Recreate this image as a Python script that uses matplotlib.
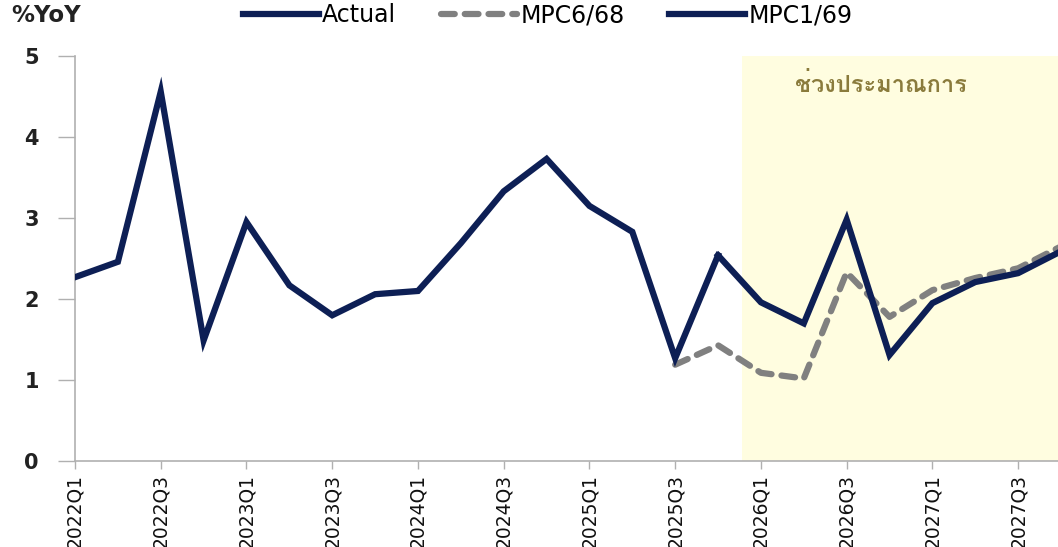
import matplotlib
matplotlib.use("Agg")
import matplotlib.pyplot as plt
from matplotlib.lines import Line2D

quarters = [f"{y}Q{q}" for y in range(2022, 2028) for q in range(1, 5)]
actual = [2.27, 2.46, 4.56, 1.49, 2.95, 2.17, 1.80, 2.06, 2.10, 2.69, 3.33, 3.73,
          3.15, 2.83, 1.27, 2.54]
mpc169 = [2.54, 1.96, 1.70, 2.98, 1.31, 1.95, 2.21, 2.32, 2.59]
mpc668 = [1.19, 1.43, 1.09, 1.02, 2.33, 1.78, 2.11, 2.26, 2.38, 2.65]
tick_labels = quarters[::2]
yticks = [0, 1, 2, 3, 4, 5]
forecast_label = "ช่วงประมาณการ"

navy = "#0d1f55"
grey = "#808080"

plt.rcParams['font.family'] = ['DejaVu Sans']
fig = plt.figure(figsize=(10.58, 5.47), dpi=100)
ax = fig.add_axes([0.0709, 0.157, 0.9291, 0.7406])

x_act = list(range(len(actual)))
x_169 = list(range(len(actual) - 1, len(actual) - 1 + len(mpc169)))
x_668 = list(range(14, 14 + len(mpc668)))

ax.axvspan(15.55, 24, color="#fffde0", zorder=0, lw=0)
ax.plot(x_668, mpc668, color=grey, lw=4.5, ls=(0, (2.2, 1.6)), dash_capstyle="round",
        solid_capstyle="round", zorder=2)
ax.plot(x_act, actual, color=navy, lw=4.5, solid_joinstyle="miter", zorder=3)
ax.plot(x_169, mpc169, color=navy, lw=4.5, solid_joinstyle="miter", zorder=3)

ax.set_xlim(0, 22.93)
ax.set_ylim(0, 5)
ax.set_yticks(yticks)
ax.set_yticklabels([str(v) for v in yticks], fontsize=15, fontweight="bold", color="#222222")
ax.set_xticks(range(0, len(quarters), 2))
ax.set_xticklabels(tick_labels, rotation=90, fontsize=13.5, color="#111111")
ax.tick_params(axis="y", length=12, width=1, color="#b0b0b0", direction="out", pad=14)
ax.tick_params(axis="x", length=6, width=1, color="#b0b0b0", direction="out", pad=3)
for s in ["top", "right"]:
    ax.spines[s].set_visible(False)
for s in ["left", "bottom"]:
    ax.spines[s].set_color("#b0b0b0")
    ax.spines[s].set_linewidth(1.2)

ax.text(18.8, 4.64, forecast_label, family=["Loma", "Noto Sans Thai Looped", "DejaVu Sans"],
        fontsize=17, fontweight="bold", color="#8a7b3c", ha="center", va="center")

fig.text(0.011, 0.972, "%YoY", fontsize=16.5, fontweight="bold", color="#222222",
         ha="left", va="center")

handles = [Line2D([], [], color=navy, lw=4.5),
           Line2D([], [], color=grey, lw=4.5, ls=(0, (2.2, 1.6)), dash_capstyle="round"),
           Line2D([], [], color=navy, lw=4.5)]
leg = fig.legend(handles, ["Actual", "MPC6/68", "MPC1/69"], loc="center left",
                 bbox_to_anchor=(0.2297, 0.972), ncol=3, frameon=False, fontsize=17,
                 handlelength=3.2, handletextpad=0.15, columnspacing=1.9,
                 borderaxespad=0, borderpad=0)

fig.savefig("out.png", dpi=100)
